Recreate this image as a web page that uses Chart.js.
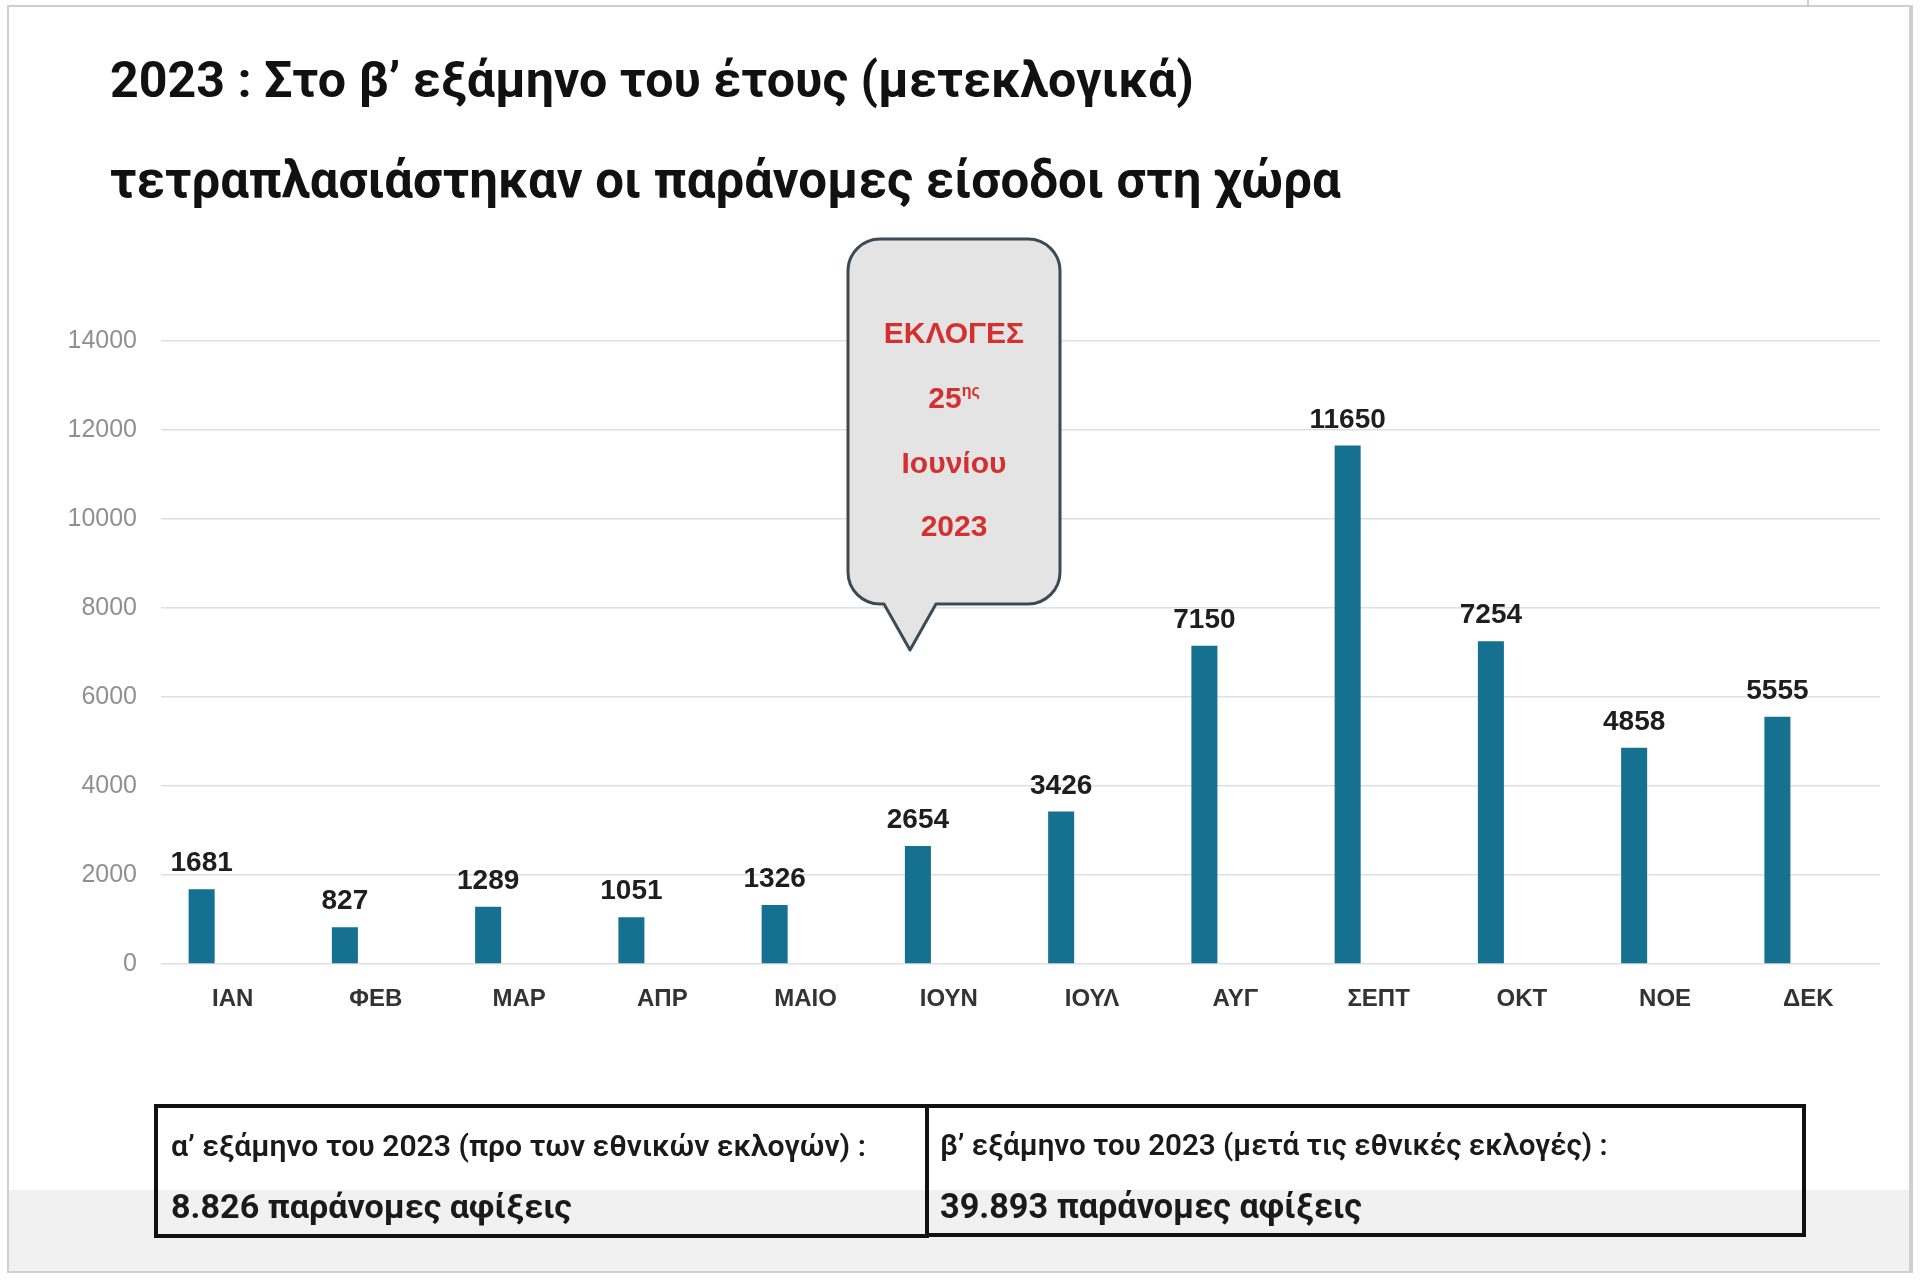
<!DOCTYPE html>
<html>
<head>
<meta charset="utf-8">
<script src="https://cdn.jsdelivr.net/npm/chart.js@4.4.1/dist/chart.umd.min.js"></script>
<style>
  html, body { margin: 0; padding: 0; background: #ffffff; }
  #page { position: relative; width: 1920px; height: 1281px; overflow: hidden; background: #fff; }
  .band { position: absolute; left: 9px; top: 1190px; width: 1902px; height: 83px; background: #f1f1f1; }
  .frame { position: absolute; left: 7px; top: 5px; width: 1902px; height: 1266px; border: 2px solid #cfcfcf; border-bottom: none; }
  .fline { position: absolute; background: #cfcfcf; }
  canvas { position: absolute; left: 0; top: 0; }
  .txt { position: absolute; white-space: nowrap; line-height: 1; display: inline-block; }
  .title { font-family: Roboto, "Liberation Sans", sans-serif; font-weight: 700; color: #111; font-size: 50px; left: 110px; }
  .box { position: absolute; border: 4px solid #111; box-sizing: border-box; }
  .b1 { font-family: Roboto, "Liberation Sans", sans-serif; font-weight: 600; color: #1a1a1a; font-size: 24px; }
  .b2 { font-family: Roboto, "Liberation Sans", sans-serif; font-weight: 700; color: #1a1a1a; font-size: 30px; }
  .bub { font-family: "Liberation Sans", Arial, sans-serif; font-weight: 700; color: #d3302f; font-size: 30px; }
  .bub sup { font-size: 16px; vertical-align: 0; position: relative; top: -12px; }
  svg { position: absolute; left: 0; top: 0; }
</style>
</head>
<body>
<div id="page">
  <div class="band"></div>
  <div class="frame"></div>
  <div class="fline" style="left:1807px;top:0;width:2px;height:6px"></div>
  <div class="fline" style="left:7px;top:1271px;width:1906px;height:2px"></div>
  <div class="fline" style="left:1909px;top:5px;width:2px;height:1268px"></div>
  <canvas id="c" width="1920" height="1281"></canvas>

  <div id="t1" class="txt title">2023 : Στο β’ εξάμηνο του έτους (μετεκλογικά)</div>
  <div id="t2" class="txt title">τετραπλασιάστηκαν οι παράνομες είσοδοι στη χώρα</div>

  <svg width="1920" height="1281">
    <path d="M 880 239 H 1028 A 32 32 0 0 1 1060 271 V 572 A 32 32 0 0 1 1028 604 H 936 L 910 650 L 884 604 H 880 A 32 32 0 0 1 848 572 V 271 A 32 32 0 0 1 880 239 Z"
          fill="#e4e4e4" stroke="#3b4a55" stroke-width="3" stroke-linejoin="round"/>
  </svg>
  <div id="e1" class="txt bub">ΕΚΛΟΓΕΣ</div>
  <div id="e2" class="txt bub">25<sup>ης</sup></div>
  <div id="e3" class="txt bub">Ιουνίου</div>
  <div id="e4" class="txt bub">2023</div>

  <div class="box" style="left:154px;top:1104px;width:775px;height:134px"></div>
  <div class="box" style="left:925px;top:1104px;width:881px;height:133px"></div>
  <div id="l1" class="txt b1">α’ εξάμηνο του 2023 (προ των εθνικών εκλογών) :</div>
  <div id="l2" class="txt b2">8.826 παράνομες αφίξεις</div>
  <div id="r1" class="txt b1">β’ εξάμηνο του 2023 (μετά τις εθνικές εκλογές) :</div>
  <div id="r2" class="txt b2">39.893 παράνομες αφίξεις</div>
</div>
<script>
// ---- data ----
const months = ['ΙΑΝ', 'ΦΕΒ', 'ΜΑΡ', 'ΑΠΡ', 'ΜΑΙΟ', 'ΙΟΥΝ', 'ΙΟΥΛ', 'ΑΥΓ', 'ΣΕΠΤ', 'ΟΚΤ', 'ΝΟΕ', 'ΔΕΚ'];
const arrivals = [1681, 827, 1289, 1051, 1326, 2654, 3426, 7150, 11650, 7254, 4858, 5555];
const secondSeries = [null, null, null, null, null, null, null, null, null, null, null, null];
const yMin = 0, yMax = 14000, yStep = 2000;

// ---- text placement helpers ----
function place(id, opts) {
  const el = document.getElementById(id);
  if (opts.width) {
    const w = el.getBoundingClientRect().width;
    const fs = parseFloat(getComputedStyle(el).fontSize);
    el.style.fontSize = (fs * opts.width / w) + 'px';
  }
  const r = el.getBoundingClientRect();
  if (opts.left !== undefined) el.style.left = opts.left + 'px';
  if (opts.cx !== undefined) el.style.left = (opts.cx - r.width / 2) + 'px';
  el.style.top = (opts.cy - r.height / 2) + 'px';
}
place('t1', {left: 110, cy: 80, width: 1084});
place('t2', {left: 110, cy: 180, width: 1231});
place('e1', {cx: 954, cy: 333});
place('e2', {cx: 954, cy: 398});
place('e3', {cx: 954, cy: 463});
place('e4', {cx: 954, cy: 526});
place('l1', {left: 171, cy: 1146, width: 695});
place('l2', {left: 171, cy: 1206, width: 401});
place('r1', {left: 940, cy: 1146, width: 668});
place('r2', {left: 940, cy: 1206, width: 422});

// ---- value labels plugin ----
const valueLabels = {
  id: 'valueLabels',
  afterDatasetsDraw(chart) {
    const ctx = chart.ctx;
    const meta = chart.getDatasetMeta(0);
    ctx.save();
    ctx.font = 'bold 28px "Liberation Sans", Arial, sans-serif';
    ctx.fillStyle = '#1e1e1e';
    ctx.textAlign = 'center';
    ctx.textBaseline = 'alphabetic';
    meta.data.forEach((bar, i) => {
      ctx.fillText(String(arrivals[i]), bar.x, bar.y - 18);
    });
    ctx.restore();
  }
};

new Chart(document.getElementById('c'), {
  type: 'bar',
  data: {
    labels: months,
    datasets: [
      { label: 'Παράνομες αφίξεις', data: arrivals, backgroundColor: '#16708f',
        barPercentage: 0.42, categoryPercentage: 0.865 },
      { label: '', data: secondSeries, backgroundColor: '#16708f',
        barPercentage: 0.42, categoryPercentage: 0.865 }
    ]
  },
  options: {
    responsive: false,
    devicePixelRatio: 1,
    animation: false,
    layout: { padding: { top: 341, left: 20, right: 40, bottom: 257 } },
    plugins: { legend: { display: false }, tooltip: { enabled: false }, title: { display: false } },
    scales: {
      x: {
        grid: { display: false },
        border: { display: false },
        ticks: { color: '#333333', padding: 13, font: { family: '"Liberation Sans", Arial, sans-serif', size: 24, weight: 'bold' } },
        afterFit(scale) { scale.height = 60; }
      },
      y: {
        min: yMin, max: yMax,
        grid: { color: '#dfdfdf', lineWidth: 1.5, drawTicks: false },
        border: { display: false },
        ticks: { stepSize: yStep, color: '#909090', padding: 24,
                 font: { family: '"Liberation Sans", Arial, sans-serif', size: 25 },
                 callback: (v) => String(v) },
        afterFit(scale) { scale.width = 141; }
      }
    }
  },
  plugins: [valueLabels]
});
</script>
</body>
</html>
